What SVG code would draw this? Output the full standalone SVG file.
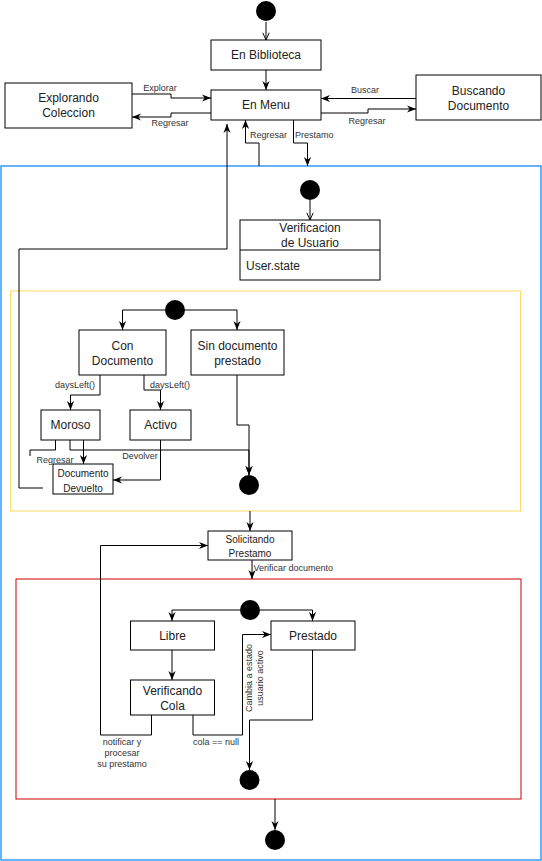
<svg xmlns="http://www.w3.org/2000/svg" width="542" height="861" viewBox="0 0 542 861">
<style>
.n{fill:#fff;stroke:#000;stroke-width:1}
.t{font-family:"Liberation Sans",Arial,sans-serif;font-size:12px;fill:#222;text-anchor:middle}
.s{font-family:"Liberation Sans",Arial,sans-serif;font-size:10px;fill:#222;text-anchor:middle}
.l{font-family:"Liberation Sans",Arial,sans-serif;font-size:9px;fill:#333;text-anchor:middle}
.e{fill:none;stroke:#000;stroke-width:1}
.ea{fill:none;stroke:#000;stroke-width:1;marker-end:url(#a)}
.eo{fill:none;stroke:#000;stroke-width:1;marker-end:url(#o)}
.dot{fill:#000}
</style>
<defs>
<marker id="a" viewBox="0 0 10 10" refX="10" refY="5" markerWidth="9" markerHeight="9" orient="auto" markerUnits="userSpaceOnUse"><path d="M0,1 L10,5 L0,9 L3,5 z" fill="#000"/></marker>
<marker id="o" viewBox="0 0 10 10" refX="10" refY="5" markerWidth="8" markerHeight="8" orient="auto" markerUnits="userSpaceOnUse"><path d="M1,1 L10,5 L1,9" fill="none" stroke="#000" stroke-width="1.2"/></marker>
</defs>
<rect width="542" height="861" fill="#fff"/>

<g id="containers">
<rect id="c-usuario" x="1" y="166" width="540" height="694" fill="none" stroke="#3399ff" stroke-width="1.5"/>
<rect id="c-estado" x="10.5" y="291" width="510" height="220" fill="none" stroke="#ffd966" stroke-width="1"/>
<rect id="c-doc" x="16" y="579" width="505" height="220" fill="none" stroke="#cc0000" stroke-width="1"/>
</g>

<g id="connectors">
<path class="eo" d="M266,22 V40"/>
<path class="ea" d="M266,70 V90"/>
<path class="ea" d="M132,94 H171 V98 H211"/>
<text class="l" x="160" y="91">Explorar</text>
<path class="ea" d="M211,113 H171 V117 H132"/>
<text class="l" x="170" y="126">Regresar</text>
<path class="ea" d="M416,98.5 H321"/>
<text class="l" x="365" y="93">Buscar</text>
<path class="ea" d="M321,113 H368 V109 H416"/>
<text class="l" x="367" y="124">Regresar</text>
<path class="ea" d="M259,166 V143 H245.5 V120"/>
<text class="l" x="250" y="138" text-anchor="start" style="text-anchor:start">Regresar</text>
<path class="ea" d="M293.5,120 V143 H307.5 V166"/>
<text class="l" x="295" y="138" style="text-anchor:start">Prestamo</text>
<path class="ea" d="M43,488 H19 V249 H227 V124"/>
<path class="eo" d="M310,200 V220"/>

<path class="ea" d="M165,310 H122.5 V330"/>
<path class="ea" d="M185,310 H237 V330"/>
<path class="ea" d="M100,375 V395 H70.5 V410"/>
<text class="l" x="75" y="388">daysLeft()</text>
<path class="ea" d="M144,375 V390 H160.5 V410"/>
<text class="l" x="150" y="388" style="text-anchor:start">daysLeft()</text>
<path class="e" d="M55.5,440 V450 H30 V456"/>
<text class="l" x="55" y="463">Regresar</text>
<path class="ea" d="M83.5,440 V464"/>
<path class="ea" d="M70,440 V450 H249 V475"/>
<path class="ea" d="M237,375 V425 H249 V475"/>
<path class="ea" d="M160.5,440 V480 H113"/>
<text class="l" x="140" y="459">Devolver</text>

<path class="ea" d="M250,511 V531"/>
<path class="ea" d="M252,560 V579"/>
<text class="l" x="253.5" y="571" style="text-anchor:start">Verificar documento</text>

<path class="ea" d="M240,610 H172 V621"/>
<path class="ea" d="M260,610 H312.5 V621"/>
<path class="ea" d="M172,650 V680"/>
<path class="ea" d="M151.5,715 V735 H100.5 V545.5 H208"/>
<text class="l" x="122" y="745">notificar y</text>
<text class="l" x="122" y="756">procesar</text>
<text class="l" x="122" y="767">su prestamo</text>
<path class="ea" d="M193,715 V735 H242.5 V634.5 H271"/>
<text class="l" x="216" y="745">cola == null</text>
<text class="l" transform="translate(251.5,678) rotate(-90)">Cambia a estado</text>
<text class="l" transform="translate(262.5,678) rotate(-90)">usuario activo</text>
<path class="ea" d="M312.5,650 V720 H249.5 V770"/>
<path class="ea" d="M275,799 V830"/>
</g>

<g id="start"><circle class="dot" cx="266" cy="11" r="10"/></g>
<g id="en-biblioteca"><rect class="n" x="211" y="40" width="110" height="30"/><text class="t" x="266" y="59">En Biblioteca</text></g>
<g id="en-menu"><rect class="n" x="211" y="90" width="110" height="30"/><text class="t" x="266" y="109">En Menu</text></g>
<g id="explorando"><rect class="n" x="5" y="83" width="127" height="45"/><text class="t" x="68.5" y="102">Explorando</text><text class="t" x="68.5" y="117">Coleccion</text></g>
<g id="buscando"><rect class="n" x="416" y="75" width="125" height="45"/><text class="t" x="478.5" y="95">Buscando</text><text class="t" x="478.5" y="110">Documento</text></g>

<g id="usuario-start"><circle class="dot" cx="310" cy="190" r="10"/></g>
<g id="verificacion"><rect class="n" x="240" y="220" width="140" height="60"/><line x1="240" y1="250" x2="380" y2="250" stroke="#000"/><text class="t" x="310" y="232">Verificacion</text><text class="t" x="310" y="247">de Usuario</text><text class="t" x="246" y="270" style="text-anchor:start">User.state</text></g>

<g id="estado-start"><circle class="dot" cx="175" cy="310" r="10"/></g>
<g id="con-documento"><rect class="n" x="79" y="330" width="87" height="45"/><text class="t" x="122.5" y="350">Con</text><text class="t" x="122.5" y="365">Documento</text></g>
<g id="sin-documento"><rect class="n" x="191" y="330" width="93" height="45"/><text class="t" x="237.5" y="350">Sin documento</text><text class="t" x="237.5" y="365">prestado</text></g>
<g id="moroso"><rect class="n" x="41" y="410" width="59" height="30"/><text class="t" x="70.5" y="429">Moroso</text></g>
<g id="activo"><rect class="n" x="130" y="410" width="61" height="30"/><text class="t" x="160.5" y="429">Activo</text></g>
<g id="devuelto"><rect class="n" x="53" y="464" width="60" height="30"/><text class="s" x="83" y="477">Documento</text><text class="s" x="83" y="492">Devuelto</text></g>
<g id="estado-end"><circle class="dot" cx="249" cy="485" r="10"/></g>

<g id="solicitando"><rect class="n" x="208" y="531" width="84" height="29"/><text class="s" x="250" y="543">Solicitando</text><text class="s" x="250" y="557">Prestamo</text></g>

<g id="doc-start"><circle class="dot" cx="250" cy="610" r="10"/></g>
<g id="libre"><rect class="n" x="130.5" y="621" width="84" height="29"/><text class="t" x="172.5" y="640">Libre</text></g>
<g id="prestado"><rect class="n" x="271" y="621" width="84" height="29"/><text class="t" x="313" y="640">Prestado</text></g>
<g id="verificando-cola"><rect class="n" x="130.5" y="680" width="84" height="35"/><text class="t" x="172.5" y="695">Verificando</text><text class="t" x="172.5" y="710">Cola</text></g>
<g id="doc-end"><circle class="dot" cx="249.5" cy="780" r="10"/></g>
<g id="end"><circle class="dot" cx="275" cy="840" r="10"/></g>
</svg>
